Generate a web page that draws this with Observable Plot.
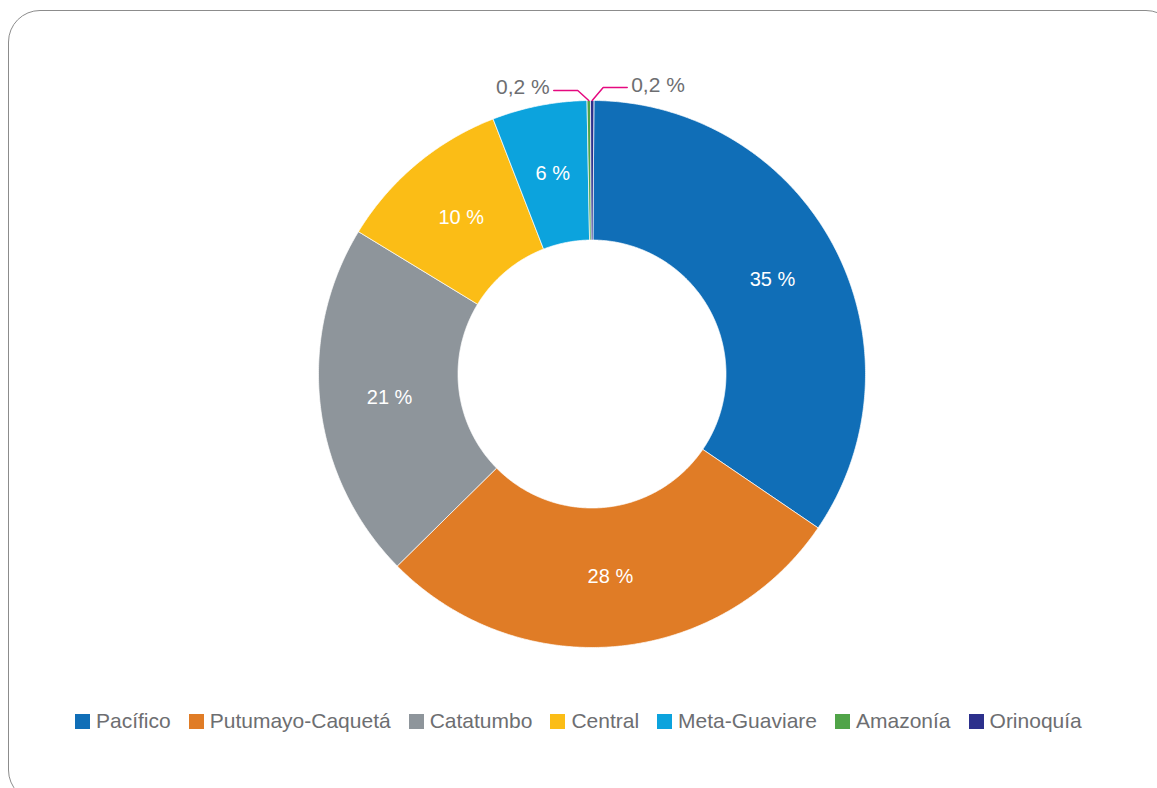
<!DOCTYPE html>
<html><head><meta charset="utf-8">
<script src="https://cdn.jsdelivr.net/npm/d3@7"></script>
<script src="https://cdn.jsdelivr.net/npm/@observablehq/plot@0.6"></script>
<style>
body{margin:0;background:#fff;font-family:"Liberation Sans",Arial,sans-serif;}
#wrap{position:relative;width:1157px;height:788px;overflow:hidden;background:#fff;}
#frame{position:absolute;left:8px;top:10px;width:1170px;height:792px;border:1.6px solid #8c8c8c;border-radius:32px;box-sizing:border-box;pointer-events:none;z-index:2;}
#chart{position:absolute;left:0;top:0;}
#legend{position:absolute;left:75px;top:707px;height:28px;display:flex;align-items:center;gap:18px;}
.item{display:flex;align-items:center;font-size:21px;color:#6d6e71;white-space:nowrap;}
.sw{width:15px;height:15px;margin-right:6px;flex:none;}
</style></head><body>
<div id="wrap"><div id="frame"></div><div id="chart"></div><div id="legend"></div></div>
<script>
// ---- data ----
const regions = ["Pacífico","Putumayo-Caquetá","Catatumbo","Central","Meta-Guaviare","Amazonía","Orinoquía"];
const shares  = [34.4, 28.1, 21.1, 10.4, 5.6, 0.2, 0.2];
const labels  = ["35 %","28 %","21 %","10 %","6 %","0,2 %","0,2 %"];
const colors  = ["#106eb7","#e07c26","#8e959b","#fbbd16","#0ca3dd","#50a448","#2c308c"];

// ---- geometry (derived) ----
const total = d3.sum(shares);
const startDeg = 0.4;
const Rpx = 273.5;              // outer radius in px (for pixel offsets)
const R0 = 134 / Rpx, R1 = 1;   // inner / outer radius in data units
const pt = (deg, r) => [r * Math.sin(deg * Math.PI / 180), r * Math.cos(deg * Math.PI / 180)];

let acc = 0;
const slices = regions.map((region, i) => {
  const a0 = startDeg + acc / total * 360;
  acc += shares[i];
  const a1 = startDeg + acc / total * 360;
  return {region, a0, a1, mid: (a0 + a1) / 2, label: labels[i], i};
});

const poly = [];
for (const s of slices) {
  const n = Math.max(2, Math.ceil((s.a1 - s.a0) / 0.4));
  for (let k = 0; k <= n; k++) { const a = s.a0 + (s.a1 - s.a0) * k / n; const [x, y] = pt(a, R1); poly.push({region: s.region, x, y}); }
  for (let k = n; k >= 0; k--) { const a = s.a0 + (s.a1 - s.a0) * k / n; const [x, y] = pt(a, R0); poly.push({region: s.region, x, y}); }
  const [x, y] = pt(s.a0, R1); poly.push({region: s.region, x, y});
}

const big = slices.slice(0, 5).map(s => {
  const [x, y] = pt(s.mid, (R0 + R1) / 2);
  return {x, y, label: s.label};
});

// leader lines for the two tiny slices
const leaders = [];
const small = [];
slices.slice(5).forEach((s, j) => {
  const dir = j === 0 ? -1 : 1;
  const up = j === 0 ? 10 : 13;
  const [ax, ay] = pt(s.mid, R1);
  const ex = ax + dir * 11 / Rpx, ey = ay + up / Rpx;
  const fx = ex + dir * 24 / Rpx, fy = ey;
  leaders.push({id: s.region, x: ax, y: ay}, {id: s.region, x: ex, y: ey}, {id: s.region, x: fx, y: fy});
  small.push({x: fx, y: fy, label: s.label, anchor: dir < 0 ? "end" : "start"});
});

const W = 1157, H = 690;
const plot = Plot.plot({
  width: W, height: H,
  marginLeft: 318, marginRight: W - 865,
  marginTop: 100, marginBottom: H - 647,
  x: {domain: [-1, 1], axis: null},
  y: {domain: [-1, 1], axis: null},
  color: {domain: regions, range: colors},
  style: {background: "transparent", overflow: "visible", fontFamily: "Liberation Sans, Arial, sans-serif"},
  marks: [
    Plot.line(poly, {x: "x", y: "y", z: "region", fill: "region", stroke: "white", strokeWidth: 0.7, strokeLinejoin: "round"}),
    Plot.text(big, {x: "x", y: "y", text: "label", fill: "white", fontSize: 20}),
    Plot.line(leaders, {x: "x", y: "y", z: "id", stroke: "#e5097f", strokeWidth: 1.5}),
    Plot.text(small.filter(d => d.anchor === "end"), {x: "x", y: "y", text: "label", textAnchor: "end", dx: -4, dy: -3, fill: "#6d6e71", fontSize: 21}),
    Plot.text(small.filter(d => d.anchor === "start"), {x: "x", y: "y", text: "label", textAnchor: "start", dx: 4, dy: -2, fill: "#6d6e71", fontSize: 21})
  ]
});
document.getElementById("chart").appendChild(plot);

// legend
const lg = document.getElementById("legend");
regions.forEach((r, i) => {
  const it = document.createElement("div"); it.className = "item";
  const sw = document.createElement("span"); sw.className = "sw"; sw.style.background = colors[i];
  const tx = document.createElement("span"); tx.textContent = r;
  it.appendChild(sw); it.appendChild(tx); lg.appendChild(it);
});
</script>
</body></html>
